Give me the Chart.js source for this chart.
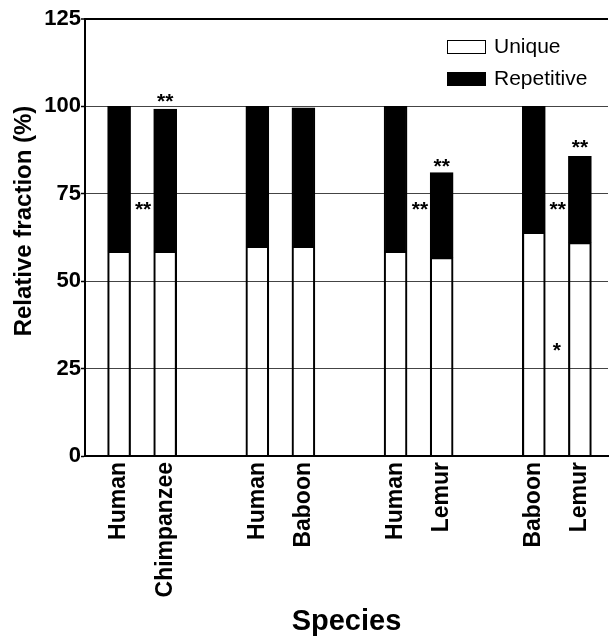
<!DOCTYPE html>
<html>
<head>
<meta charset="utf-8">
<script src="https://cdn.jsdelivr.net/npm/chart.js@4.4.1/dist/chart.umd.min.js"></script>
<style>
  body { margin: 0; background: #fff; }
</style>
</head>
<body>
<canvas id="chart" width="613" height="639"></canvas>
<script>
// Species under each bar, left to right (compared in pairs)
const species = ['Human', 'Chimpanzee', 'Human', 'Baboon', 'Human', 'Lemur', 'Baboon', 'Lemur'];
// Relative fraction (%) per bar
const uniqueValues = [58.6, 58.6, 60.0, 60.0, 58.6, 56.8, 64.0, 61.1];
const repetitiveValues = [41.4, 40.6, 40.0, 39.6, 41.4, 24.3, 36.0, 24.6];
const yTicks = [0, 25, 50, 75, 100, 125];
// Significance marks: text, slot along the x axis, height in %
const markText = ['**', '**', '**', '**', '**', '**', '*'];
const markSlot = [1, 0.52, 7, 6.53, 10, 9.52, 9.5];
const markValue = [102.8, 71.8, 84.2, 71.8, 89.6, 71.8, 31.5];

const FONT = "'Liberation Sans', Arial, sans-serif";

// each pair of bars is followed by an empty slot
const slots = species.map((s, i) => i + Math.floor(i / 2));

const annotations = {
    id: 'annotations',
    afterDraw(chart) {
        const ctx = chart.ctx;
        const xs = chart.scales.x, ys = chart.scales.y;
        ctx.save();

        // asterisks
        ctx.fillStyle = '#000';
        ctx.font = 'bold 21px ' + FONT;
        ctx.textAlign = 'center';
        ctx.textBaseline = 'alphabetic';
        markText.forEach((t, i) => {
            ctx.fillText(t, xs.getPixelForValue(markSlot[i]), ys.getPixelForValue(markValue[i]) + 11);
        });

        // legend
        const items = chart.data.datasets;
        ctx.font = '21px ' + FONT;
        ctx.textAlign = 'left';
        ctx.textBaseline = 'middle';
        items.forEach((ds, i) => {
            const y = 40 + i * 32;
            ctx.fillStyle = ds.legendColor;
            ctx.fillRect(447, y, 39, 14);
            ctx.strokeStyle = '#000';
            ctx.lineWidth = 1;
            ctx.strokeRect(447.5, y + 0.5, 38, 13);
            ctx.fillStyle = '#000';
            ctx.fillText(ds.label, 494, y + 7);
        });

        // y axis title
        ctx.font = 'bold 24px ' + FONT;
        ctx.textAlign = 'center';
        ctx.translate(24, 221);
        ctx.rotate(-Math.PI / 2);
        ctx.fillText('Relative fraction (%)', 0, 0);
        ctx.restore();
    }
};

new Chart(document.getElementById('chart'), {
    type: 'bar',
    data: {
        datasets: [{
            label: 'Unique',
            data: uniqueValues.map((v, i) => ({ x: slots[i], y: v })),
            backgroundColor: 'rgba(0,0,0,0)',
            legendColor: '#fff',
            borderColor: '#000',
            borderWidth: 1.5,
            barThickness: 23
        }, {
            label: 'Repetitive',
            data: repetitiveValues.map((v, i) => ({ x: slots[i], y: v })),
            backgroundColor: '#000',
            legendColor: '#000',
            borderColor: '#000',
            borderWidth: 1.5,
            barThickness: 23
        }]
    },
    options: {
        responsive: false,
        animation: false,
        layout: { padding: { top: 19, right: 5, left: 0, bottom: 0 } },
        plugins: {
            legend: { display: false },
            tooltip: { enabled: false }
        },
        scales: {
            x: {
                type: 'linear',
                stacked: true,
                offset: false,
                min: -0.74,
                max: 10.61,
                afterBuildTicks(scale) {
                    scale.ticks = slots.map(v => ({ value: v }));
                },
                afterFit(scale) {
                    scale.height = 183;
                    scale.paddingLeft = 0;
                    scale.paddingRight = 0;
                },
                grid: { display: false, drawTicks: false, offset: false },
                border: { color: '#000', width: 2 },
                ticks: {
                    autoSkip: false,
                    minRotation: 90,
                    maxRotation: 90,
                    padding: 6,
                    color: '#000',
                    font: { family: FONT, size: 23, weight: 'bold' },
                    callback: v => species[slots.indexOf(v)]
                },
                title: {
                    display: true,
                    text: 'Species',
                    color: '#000',
                    padding: 0,
                    font: { family: FONT, size: 29, weight: 'bold' }
                }
            },
            y: {
                stacked: true,
                min: 0,
                max: 125,
                afterBuildTicks(scale) {
                    scale.ticks = yTicks.map(v => ({ value: v }));
                },
                afterFit(scale) {
                    scale.width = 85;
                    scale.paddingTop = 0;
                    scale.paddingBottom = 0;
                },
                grid: {
                    color: c => c.tick && c.tick.value === 125 ? '#000' : '#444',
                    lineWidth: c => c.tick && c.tick.value === 125 ? 2 : 1,
                    tickLength: 4,
                    tickColor: '#000',
                    tickWidth: 1.5
                },
                border: { color: '#000', width: 2 },
                ticks: {
                    padding: 0,
                    color: '#000',
                    font: { family: FONT, size: 22, weight: 'bold' }
                }
            }
        }
    },
    plugins: [annotations]
});
</script>
</body>
</html>
